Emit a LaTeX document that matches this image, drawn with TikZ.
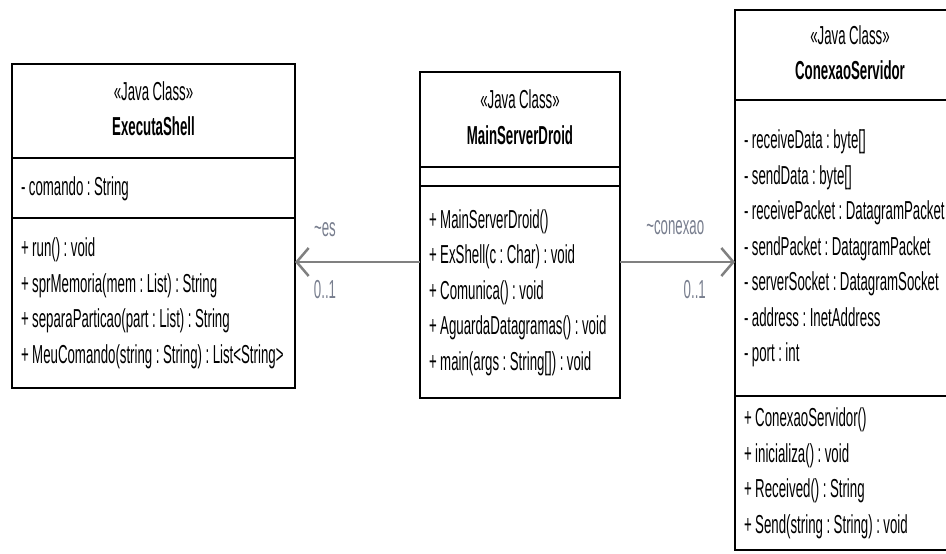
\documentclass[tikz,border=0pt]{standalone}
\usepackage{fontspec}
\setmainfont{Liberation Sans}[FakeStretch=0.51]
\usepackage{tikz}
\usetikzlibrary{positioning,arrows.meta}
\newcommand{\umlfont}{\fontsize{26}{35.5}\selectfont\hyphenpenalty=10000}
\newcommand{\umlspace}{\XeTeXinterwordspaceshaping=0 \frenchspacing
  \spaceskip=3.5pt\relax\xspaceskip=3.5pt\relax}
\definecolor{assocgray}{RGB}{128,128,128}
\definecolor{rolegray}{RGB}{120,126,142}
\tikzset{
  classbox/.style={draw, line width=1.5pt, inner xsep=9pt, inner ysep=0pt, outer sep=0pt,
    font=\umlfont, execute at end node=\strut},
  classhead/.style={classbox, align=center, execute at begin node={\umlspace\strut}},
  classpart/.style={classbox, align=left,
    execute at begin node={\umlspace\rightskip=0pt plus 1fil minus 200pt\strut}},
  classgap/.style={draw, line width=1.5pt, inner sep=0pt, outer sep=0pt},
  classframe/.style={draw, line width=2.6pt},
  assoc/.style={draw=assocgray, line width=2.5pt, -{Straight Barb[length=12pt,width=28pt]}},
  rolelabel/.style={text=rolegray, font=\umlfont, inner sep=0pt}
}

\begin{document}
\begin{tikzpicture}[x=1pt, y=-1pt]
  \useasboundingbox (0,0) rectangle (946,554);

  % ExecutaShell
  \node[classhead, anchor=north west, text width=265pt, minimum height=94pt] (exec-head) at (12,64)
    {<<Java Class>>\\\textbf{ExecutaShell}};
  \node[classpart, text width=265pt, minimum height=60pt, below=0pt of exec-head] (exec-attr)
    {- comando : String};
  \node[classpart, text width=265pt, minimum height=170pt, below=0pt of exec-attr] (exec-ops)
    {+ run() : void\\
     + sprMemoria(mem : List) : String\\
     + separaParticao(part : List) : String\\
     + MeuComando(string : String) : List<String>};
  \draw[classframe] (exec-head.north west) rectangle (exec-ops.south east);

  % MainServerDroid
  \node[classhead, anchor=north west, text width=182pt, minimum height=95pt] (main-head) at (420,72)
    {<<Java Class>>\\\textbf{MainServerDroid}};
  \node[classgap, minimum width=200pt, minimum height=19pt, below=0pt of main-head] (main-attr) {};
  \node[classpart, text width=182pt, minimum height=212pt, below=0pt of main-attr] (main-ops)
    {+ MainServerDroid()\\
     + ExShell(c : Char) : void\\
     + Comunica() : void\\
     + AguardaDatagramas() : void\\
     + main(args : String[]) : void};
  \draw[classframe] (main-head.north west) rectangle (main-ops.south east);

  % ConexaoServidor
  \node[classhead, anchor=north west, text width=212pt, minimum height=90pt] (conex-head) at (735,10)
    {<<Java Class>>\\\textbf{ConexaoServidor}};
  \node[classpart, text width=212pt, minimum height=296pt, below=0pt of conex-head] (conex-attr)
    {- receiveData : byte[]\\
     - sendData : byte[]\\
     - receivePacket : DatagramPacket\\
     - sendPacket : DatagramPacket\\
     - serverSocket : DatagramSocket\\
     - address : InetAddress\\
     - port : int};
  \node[classpart, text width=212pt, minimum height=154pt, below=0pt of conex-attr] (conex-ops)
    {+ ConexaoServidor()\\
     + inicializa() : void\\
     + Received() : String\\
     + Send(string : String) : void};
  \draw[classframe] (conex-head.north west) rectangle (conex-ops.south east);

  % associations
  \coordinate (es-start) at ([yshift=-76pt]main-ops.north west);
  \coordinate (conexao-start) at ([yshift=-76pt]main-ops.north east);
  \draw[assoc] (es-start) -- (es-start -| exec-ops.east)
    node[rolelabel, pos=0.76, yshift=32pt] (es-role) {\textasciitilde es}
    node[rolelabel, pos=0.76, yshift=-28pt] (es-mult) {0..1};
  \draw[assoc] (conexao-start) -- (conexao-start -| conex-attr.west)
    node[rolelabel, pos=0.48, yshift=34pt] (conexao-role) {\textasciitilde conexao}
    node[rolelabel, pos=0.65, yshift=-28pt] (conexao-mult) {0..1};
\end{tikzpicture}
\end{document}
